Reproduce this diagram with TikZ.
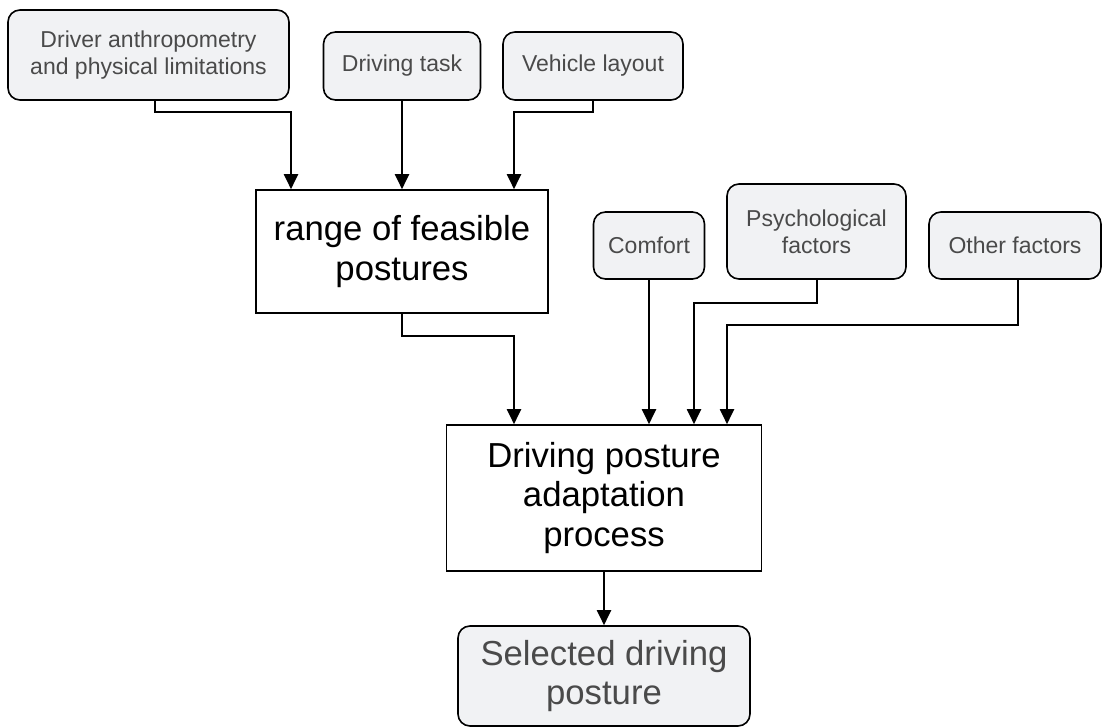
\documentclass[tikz,border=0pt]{standalone}
\usepackage{fontspec}
\setmainfont{Liberation Sans}
\usetikzlibrary{arrows.meta}
\definecolor{boxgray}{HTML}{F1F2F4}
\definecolor{textgray}{HTML}{4A4A4A}
\tikzset{
  smallbox/.style={draw, rounded corners=12pt, fill=boxgray, text=textgray,
    font=\fontsize{23}{27}\selectfont, align=center, line width=1.6pt, inner sep=0pt},
  bigbox/.style={draw, fill=white, font=\fontsize{34.7}{39.5}\selectfont,
    align=center, line width=1.6pt, inner sep=0pt},
  arr/.style={-{Triangle[length=15pt,width=14pt]}, line width=2pt},
}
\begin{document}
\begin{tikzpicture}[x=1pt,y=1pt]
\useasboundingbox (0,0) rectangle (1103,-727);
\node[smallbox, minimum width=281pt, minimum height=90pt] (b1) at (148.5,-55) {Driver anthropometry\\and physical limitations};
\node[smallbox, minimum width=157pt, minimum height=68pt] (b2) at (402,-66) {Driving task};
\node[smallbox, minimum width=180pt, minimum height=68pt] (b3) at (593,-66) {Vehicle layout};
\node[bigbox, minimum width=292pt, minimum height=123pt] (range) at (402,-251.5) {range of feasible\\postures};
\node[smallbox, minimum width=111pt, minimum height=67pt] (comfort) at (649,-245.5) {Comfort};
\node[smallbox, minimum width=179pt, minimum height=95pt] (psych) at (816.5,-231.5) {Psychological\\factors};
\node[smallbox, minimum width=172pt, minimum height=67pt] (other) at (1015,-245.5) {Other factors};
\node[bigbox, minimum width=315pt, minimum height=146pt] (proc) at (604,-498) {Driving posture\\adaptation\\process};
\node[smallbox, text=textgray, font=\fontsize{34.7}{39.5}\selectfont, minimum width=292pt, minimum height=100pt] (sel) at (604,-676) {Selected driving\\posture};

\draw[arr] ([xshift=6.5pt]b1.south) -- ++(0,-11) -| ([xshift=-111pt]range.north);
\draw[arr] (b2.south) -- (range.north);
\draw[arr] (b3.south) -- ++(0,-11) -| ([xshift=112pt]range.north);
\draw[arr] (range.south) -- ++(0,-22) -| ([xshift=-90pt]proc.north);
\draw[arr] (comfort.south) -- (comfort.south |- proc.north);
\draw[arr] ([xshift=0.5pt]psych.south) -- ++(0,-23) -| ([xshift=90pt]proc.north);
\draw[arr] ([xshift=3pt]other.south) -- ++(0,-45) -| ([xshift=123pt]proc.north);
\draw[arr] (proc.south) -- (sel.north);
\end{tikzpicture}
\end{document}
